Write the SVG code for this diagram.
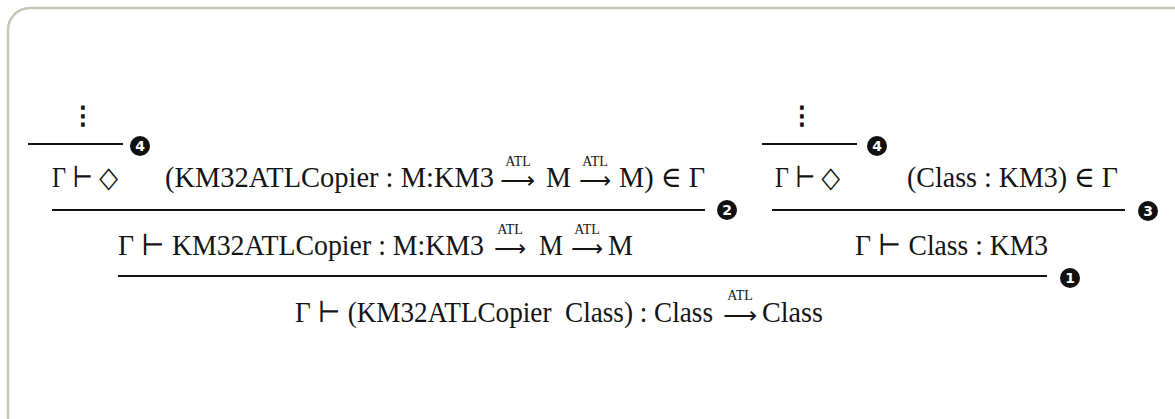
<svg xmlns="http://www.w3.org/2000/svg" width="1175" height="419" viewBox="0 0 1175 419">
<style>
.t{font-family:"Liberation Serif","DejaVu Serif",serif;font-size:29px;fill:#141414}
.s{font-family:"Liberation Serif","DejaVu Serif",serif;font-size:14px;fill:#141414;text-anchor:middle}
.ar{font-family:"DejaVu Sans",sans-serif;font-size:23px;fill:#141414}
.dots{font-family:"DejaVu Sans",sans-serif;font-size:25px;fill:#141414;stroke:#141414;stroke-width:1;text-anchor:middle}
.bar{stroke:#141414;stroke-width:2.2;fill:none}
.badge circle{fill:#111}
.badge text{font-family:"DejaVu Sans","Liberation Sans",sans-serif;font-size:14px;font-weight:bold;fill:#fff;text-anchor:middle}
</style>
<rect x="8" y="8" width="1200" height="460" rx="22" ry="22" fill="#fff" stroke="#c6c6b8" stroke-width="2.5"/>

<g id="connectors">
  <line class="bar" x1="28" y1="144" x2="123" y2="144"/>
  <line class="bar" x1="762" y1="144" x2="857" y2="144"/>
  <line class="bar" x1="52" y1="210" x2="705" y2="210"/>
  <line class="bar" x1="772" y1="210" x2="1125" y2="210"/>
  <line class="bar" x1="118" y1="276" x2="1047" y2="276"/>
</g>

<g id="badges">
  <g class="badge"><circle cx="140" cy="146" r="10"/><text x="140" y="151">4</text></g>
  <g class="badge"><circle cx="877" cy="146" r="10"/><text x="877" y="151">4</text></g>
  <g class="badge"><circle cx="727" cy="210" r="10"/><text x="727" y="215">2</text></g>
  <g class="badge"><circle cx="1148" cy="211" r="10"/><text x="1148" y="216">3</text></g>
  <g class="badge"><circle cx="1070" cy="278" r="10"/><text x="1070" y="283">1</text></g>
</g>

<g id="premise-left-dots"><text class="dots" x="83" y="124">⋮</text></g>
<g id="premise-right-dots"><text class="dots" x="802" y="124">⋮</text></g>

<g id="judgment-env-left"><text class="t" x="52" y="187" textLength="66" lengthAdjust="spacingAndGlyphs">Γ ⊢ ◇</text></g>

<g id="judgment-copier-in-env">
  <text class="t" x="165" y="187" textLength="329" lengthAdjust="spacingAndGlyphs">(KM32ATLCopier : M:KM3</text>
  <text class="ar" x="500" y="188" textLength="35" lengthAdjust="spacingAndGlyphs">⟶</text>
  <text class="s" x="518" y="166">ATL</text>
  <text class="t" x="546" y="187" textLength="25" lengthAdjust="spacingAndGlyphs">M</text>
  <text class="ar" x="579" y="188" textLength="32" lengthAdjust="spacingAndGlyphs">⟶</text>
  <text class="s" x="595" y="166">ATL</text>
  <text class="t" x="619" y="187" textLength="86" lengthAdjust="spacingAndGlyphs">M) ∈ Γ</text>
</g>

<g id="judgment-env-right"><text class="t" x="775" y="187" textLength="65" lengthAdjust="spacingAndGlyphs">Γ ⊢ ◇</text></g>
<g id="judgment-class-in-env"><text class="t" x="907" y="187" textLength="211" lengthAdjust="spacingAndGlyphs">(Class : KM3) ∈ Γ</text></g>

<g id="judgment-copier-type">
  <text class="t" x="118" y="255" textLength="366" lengthAdjust="spacingAndGlyphs">Γ ⊢ KM32ATLCopier : M:KM3</text>
  <text class="ar" x="494" y="256" textLength="32" lengthAdjust="spacingAndGlyphs">⟶</text>
  <text class="s" x="510" y="234">ATL</text>
  <text class="t" x="539" y="255" textLength="24" lengthAdjust="spacingAndGlyphs">M</text>
  <text class="ar" x="571" y="256" textLength="32" lengthAdjust="spacingAndGlyphs">⟶</text>
  <text class="s" x="587" y="234">ATL</text>
  <text class="t" x="608" y="255" textLength="25" lengthAdjust="spacingAndGlyphs">M</text>
</g>

<g id="judgment-class-type"><text class="t" x="855" y="255" textLength="193" lengthAdjust="spacingAndGlyphs">Γ ⊢ Class : KM3</text></g>

<g id="judgment-conclusion">
  <text class="t" x="295" y="322" textLength="418" lengthAdjust="spacingAndGlyphs">Γ ⊢ (KM32ATLCopier&#160; Class) : Class</text>
  <text class="ar" x="723" y="323" textLength="34" lengthAdjust="spacingAndGlyphs">⟶</text>
  <text class="s" x="740" y="300">ATL</text>
  <text class="t" x="762" y="322" textLength="61" lengthAdjust="spacingAndGlyphs">Class</text>
</g>
</svg>
